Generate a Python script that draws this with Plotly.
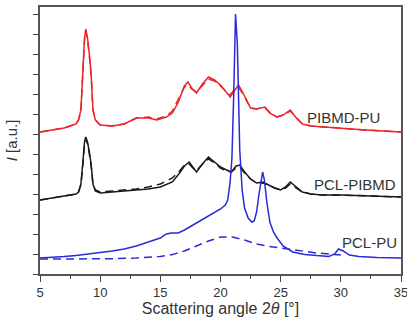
import plotly.graph_objects as go

# ---- PCL-PU (blue) ----
pclpu_x = [5, 6, 7, 8, 9, 10, 11, 12, 13, 14, 15, 15.5, 15.9, 16.5, 17, 18, 19, 20, 20.4, 20.6,
           20.8, 20.95, 21.1, 21.25, 21.4, 21.6, 21.8, 22.0, 22.3, 22.6, 22.8, 23.0, 23.2, 23.4,
           23.5, 23.65, 23.85, 24.1, 24.4, 24.7, 25.2, 26, 27, 28, 29, 29.5, 29.8, 30.2, 30.7,
           31.5, 33, 35]
pclpu_y = [0.8, 0.82, 0.87, 0.93, 1.0, 1.05, 1.15, 1.25, 1.4, 1.6, 1.8, 2.0, 2.05, 2.05, 2.2,
           2.55, 2.9, 3.25, 3.45, 3.7, 4.6, 5.8, 9.0, 13.0, 11.5, 6.2, 4.2, 3.3, 2.8, 2.6, 2.65,
           3.1, 4.0, 4.9, 5.1, 4.7, 3.6, 2.6, 2.1, 1.8, 1.4, 1.1, 0.98, 0.92, 0.88, 1.0, 1.25,
           1.15, 0.95, 0.88, 0.82, 0.8]
pclpu_dash_x = [5, 7, 9, 11, 13, 15, 16, 17, 18, 19, 20, 21, 22, 23, 24, 25, 26, 27, 28, 29, 30]
pclpu_dash_y = [0.75, 0.75, 0.75, 0.76, 0.8, 0.88, 0.97, 1.15, 1.4, 1.65, 1.85, 1.85, 1.7, 1.5,
                1.38, 1.3, 1.2, 1.12, 1.05, 1.0, 0.95]

# ---- PCL-PIBMD (black) ----
pclpibmd_x = [5, 6, 7, 8, 8.2, 8.4, 8.55, 8.7, 8.8, 8.95, 9.1, 9.25, 9.4, 9.6, 10, 11, 12, 13,
              14, 15, 16, 16.6, 17.0, 17.4, 17.7, 18.0, 18.5, 19.0, 19.5, 20.0, 20.5, 20.9,
              21.3, 21.6, 22.0, 22.5, 23.0, 23.5, 24.0, 24.5, 25.0, 25.4, 25.8, 26.2, 26.8,
              27.5, 28.5, 30, 32, 35]
pclpibmd_y = [3.7, 3.8, 3.9, 4.0, 4.1, 4.5, 5.5, 6.6, 6.85, 6.6, 6.1, 5.5, 4.5, 4.15, 4.05,
              4.1, 4.15, 4.2, 4.25, 4.35, 4.6, 5.05, 5.4, 5.6, 5.35, 5.1, 5.5, 5.85, 5.6, 5.35,
              5.2, 5.1, 5.4, 5.45, 5.1, 4.75, 4.55, 4.6, 4.45, 4.3, 4.2, 4.35, 4.6, 4.4, 4.1,
              4.0, 3.95, 3.95, 3.9, 3.85]
pclpibmd_dash_x = [5, 6, 7, 8, 8.2, 8.4, 8.55, 8.7, 8.8, 8.95, 9.1, 9.25, 9.4, 9.6, 10, 11, 12,
                   13, 14, 15, 16, 16.6, 17.0, 17.4, 17.7, 18.0, 18.5, 19.0, 19.5, 20.0, 20.5,
                   20.9, 21.3, 21.6, 22.0, 22.5, 23.0, 23.5, 24.0, 24.5, 25.0, 25.4, 25.8, 26.2,
                   26.8, 27.5, 28.5, 30, 32, 35]
pclpibmd_dash_y = [3.7, 3.8, 3.9, 4.0, 4.1, 4.45, 5.4, 6.5, 6.75, 6.5, 6.0, 5.4, 4.5, 4.2, 4.1,
                   4.15, 4.2, 4.25, 4.35, 4.5, 4.8, 5.15, 5.45, 5.5, 5.3, 5.15, 5.5, 5.75, 5.55,
                   5.3, 5.15, 5.1, 5.3, 5.35, 5.05, 4.75, 4.55, 4.55, 4.45, 4.3, 4.2, 4.3, 4.5,
                   4.35, 4.1, 4.0, 3.95, 3.95, 3.9, 3.85]

# ---- PIBMD-PU (red) ----
pibmdpu_x = [5, 6, 7, 7.5, 8.0, 8.2, 8.4, 8.55, 8.7, 8.8, 8.95, 9.1, 9.25, 9.4, 9.6, 10, 11, 12,
             13, 14, 14.7, 15.5, 16, 16.5, 17.0, 17.3, 17.6, 18.0, 18.5, 19.0, 19.5, 20.0,
             20.5, 20.8, 21.2, 21.5, 22.0, 22.5, 23.0, 23.3, 23.7, 24.2, 24.7, 25.2, 25.8,
             26.3, 26.8, 27.5, 28.5, 30, 32, 33.5, 35]
pibmdpu_y = [7.1, 7.2, 7.3, 7.4, 7.5, 7.7, 8.2, 10.0, 11.8, 12.25, 11.8, 11.0, 10.0, 8.2, 7.7,
             7.45, 7.4, 7.5, 7.8, 7.8, 7.7, 7.85, 8.05, 8.6, 9.4, 9.6, 9.3, 9.05, 9.5, 9.85,
             9.7, 9.45, 9.1, 8.85, 9.2, 9.45, 8.9, 8.3, 8.25, 8.3, 8.35, 8.0, 7.85, 7.95, 8.2,
             7.8, 7.5, 7.4, 7.35, 7.3, 7.2, 7.15, 7.1]
pibmdpu_dash_x = [5, 6, 7, 7.5, 8.0, 8.2, 8.4, 8.55, 8.7, 8.8, 8.95, 9.1, 9.25, 9.4, 9.6, 10, 11,
                  12, 13, 14, 14.7, 15.5, 16, 16.5, 17.0, 17.3, 17.6, 18.0, 18.5, 19.0, 19.5,
                  20.0, 20.5, 20.8, 21.2, 21.5, 22.0, 22.5, 23.0, 23.3, 23.7, 24.2, 24.7, 25.2,
                  25.8, 26.3, 26.8, 27.5, 28.5, 30, 32, 33.5, 35]
pibmdpu_dash_y = [7.1, 7.2, 7.3, 7.4, 7.5, 7.7, 8.15, 9.9, 11.7, 12.15, 11.7, 10.9, 9.9, 8.2,
                  7.7, 7.45, 7.4, 7.5, 7.8, 7.85, 7.75, 7.9, 8.15, 8.75, 9.35, 9.45, 9.25,
                  9.1, 9.45, 9.75, 9.65, 9.4, 9.1, 8.95, 9.25, 9.35, 8.85, 8.3, 8.25, 8.3,
                  8.3, 8.0, 7.85, 7.95, 8.15, 7.8, 7.5, 7.4, 7.35, 7.3, 7.2, 7.15, 7.1]

labels = ["PIBMD-PU", "PCL-PIBMD", "PCL-PU"]
x_ticks = [5, 10, 15, 20, 25, 30, 35]

RED = "#e8262b"
BLACK = "#1a1a1a"
BLUE = "#2a2ad8"
DASH = "8px,5px"

fig = go.Figure()
fig.add_trace(go.Scatter(x=pibmdpu_dash_x, y=pibmdpu_dash_y, mode="lines",
                         line=dict(color=RED, width=1.5, dash=DASH)))
fig.add_trace(go.Scatter(x=pibmdpu_x, y=pibmdpu_y, mode="lines",
                         line=dict(color=RED, width=1.5)))
fig.add_trace(go.Scatter(x=pclpibmd_dash_x, y=pclpibmd_dash_y, mode="lines",
                         line=dict(color=BLACK, width=1.5, dash=DASH)))
fig.add_trace(go.Scatter(x=pclpibmd_x, y=pclpibmd_y, mode="lines",
                         line=dict(color=BLACK, width=1.5)))
fig.add_trace(go.Scatter(x=pclpu_dash_x, y=pclpu_dash_y, mode="lines",
                         line=dict(color=BLUE, width=1.5, dash=DASH)))
fig.add_trace(go.Scatter(x=pclpu_x, y=pclpu_y, mode="lines",
                         line=dict(color=BLUE, width=1.5)))

label_pos = [(30.2, 7.85), (31.2, 4.5), (32.4, 1.6)]
for txt, (lx, ly) in zip(labels, label_pos):
    fig.add_annotation(x=lx, y=ly, text=txt, showarrow=False, xanchor="center",
                       yanchor="middle", font=dict(size=15, color="#333333",
                                                   family="Liberation Sans, Arial"))

fig.update_layout(
    width=407, height=320,
    margin=dict(l=40, r=6, t=7, b=46, autoexpand=False),
    plot_bgcolor="white", paper_bgcolor="white",
    showlegend=False,
    font=dict(family="Liberation Sans, Arial", color="#333333"),
)
fig.update_xaxes(
    range=[5, 35], tickvals=x_ticks, ticktext=[str(v) for v in x_ticks],
    showline=True, linecolor="#555555", linewidth=1.5, mirror=True,
    ticks="outside", ticklen=6, tickwidth=1.2, tickcolor="#444444",
    minor=dict(dtick=2.5, tick0=5, ticks="outside", ticklen=3, tickcolor="#444444", showgrid=False),
    showgrid=False, zeroline=False, ticklabeloverflow="allow",
    tickfont=dict(size=13, color="#333333"),
    title=dict(text="Scattering angle 2<i>θ</i> [°]", font=dict(size=16, color="#333333"),
               standoff=2),
)
fig.update_yaxes(
    range=[0, 13.35], tickvals=list(range(0, 14)), showticklabels=False,
    showline=True, linecolor="#555555", linewidth=1.5, mirror=True,
    ticks="outside", ticklen=5, tickwidth=1.2, tickcolor="#444444",
    showgrid=False, zeroline=False,
    title=dict(text="<i>I</i> [a.u.]", font=dict(size=15, color="#333333"), standoff=12),
)

# Remove the default page margin so the 407x320 figure fills the window exactly.
page_fix = ("document.body.style.margin='0';"
            "document.body.style.overflow='hidden';"
            "document.documentElement.style.overflow='hidden';")
fig.write_html("out.html", post_script=page_fix, config={"displayModeBar": False})
